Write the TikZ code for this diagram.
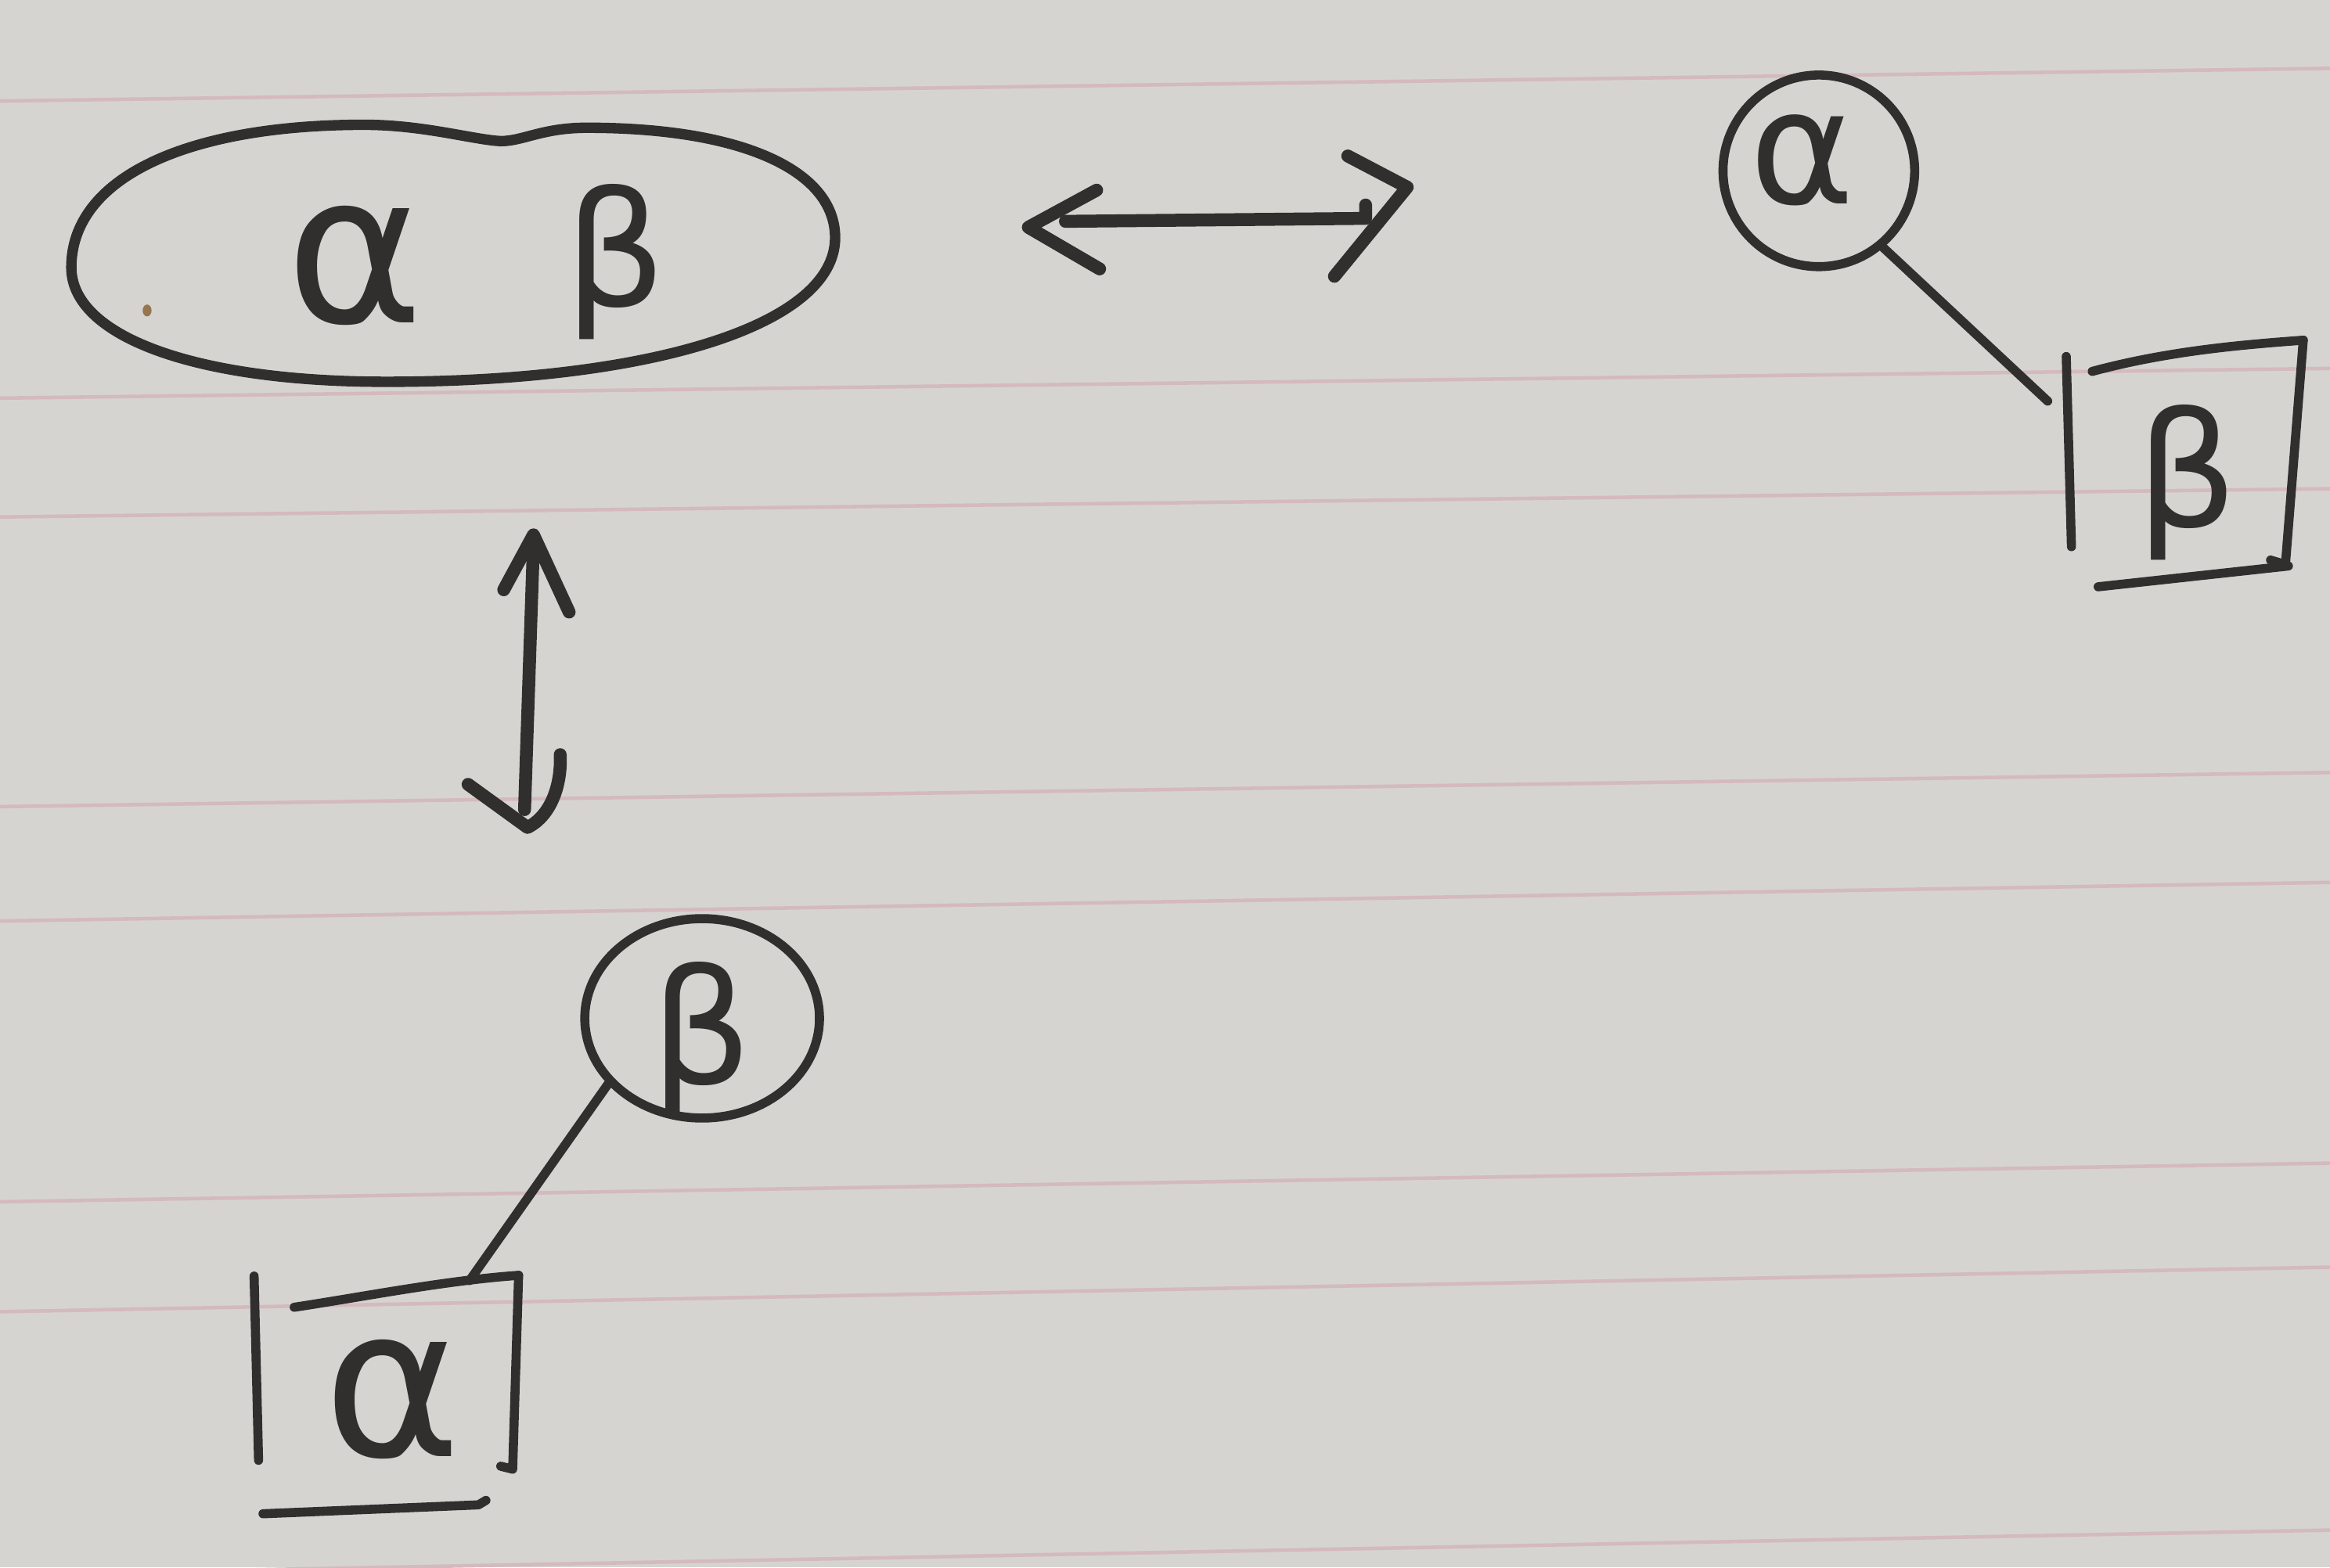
\documentclass[tikz,border=0pt]{standalone}
\usepackage{fontspec}
\newfontfamily\gk{DejaVu Sans}
\usetikzlibrary{shapes.geometric}
\definecolor{paper}{RGB}{214,212,209}
\definecolor{ink}{RGB}{48,47,46}
\definecolor{rulecol}{RGB}{212,186,189}
\definecolor{stain}{RGB}{150,118,78}
\tikzset{
  pen/.style={draw=ink, line width=3.3pt, line cap=round, line join=round},
  thickpen/.style={pen, line width=4.7pt},
  ruled/.style={draw=rulecol, line width=1.3pt},
  letter/.style={text=ink, inner sep=0pt},
  la/.style={letter, font=\gk\fontsize{76}{80}\selectfont},
  las/.style={letter, font=\gk\fontsize{58}{62}\selectfont},
  lb/.style={letter, font=\gk\fontsize{58}{62}\selectfont},
}
\begin{document}
\begin{tikzpicture}[x=0.019cm, y=-0.019cm]
\fill[paper] (0,0) rectangle (1568,1055);
\useasboundingbox (0,0) rectangle (1568,1055);
% ruled lines of the paper
\draw[ruled] (0,68) -- (1568,46);
\draw[ruled] (0,268) -- (1568,248);
\draw[ruled] (0,348) -- (1568,329);
\draw[ruled] (0,543) -- (1568,520);
\draw[ruled] (0,620) -- (1568,594);
\draw[ruled] (0,809) -- (1568,783);
\draw[ruled] (0,883) -- (1568,853);
\draw[ruled] (0,1060) -- (1568,1030);
% stain
\fill[stain] (99,209) ellipse [x radius=3, y radius=4];

% ---- ellipse group (top left)
\draw[pen, line width=3.8pt] (48,180)
  .. controls (48,120) and (125,84) .. (245,84)
  .. controls (285,84) and (318,94) .. (337,95)
  .. controls (352,95) and (365,86) .. (395,86)
  .. controls (500,86) and (562,115) .. (562,160)
  .. controls (562,218) and (441,257) .. (260,257)
  .. controls (130,257) and (48,226) .. (48,180) -- cycle;
\node[la] (a1) at (239,179) {α};
\node[lb] (b1) at (414,176) {β};

% ---- horizontal double arrow
\coordinate (hl) at (692,153);
\coordinate (hr) at (947,126);
\coordinate (hs1) at (717,149);
\coordinate (hs2) at (919,147);
\draw[thickpen] (hs1) -- (hs2) -- ++(0,-9);
\draw[thickpen] (hl) ++(46,-25) -- (hl) -- ++(48,28);
\draw[thickpen] (hr) ++(-40,-21) -- (hr) -- ++(-49,60);

% ---- top right: circle alpha linked to box beta
\node[circle, pen, minimum size=2.45cm, inner sep=0pt] (c2) at (1224,115) {};
\node[las] (a2) at (1213,108) {α};
\coordinate (k2) at (1378,270);
\draw[pen] (c2.-50) -- (k2);
\draw[pen] (1390.5,240) -- (1394,368);
\draw[pen] (1408,250) .. controls (1460,236) and (1510,232) .. (1550,229);
\draw[pen] (1550,229) -- (1538,380) -- (1528,377);
\draw[pen] (1412,395) -- (1540,381);
\node[lb] (b2) at (1472,325) {β};

% ---- vertical double arrow
\coordinate (vt) at (359,360);
\coordinate (vb) at (355,557);
\coordinate (vs1) at (359,366);
\coordinate (vs2) at (353,545);
\draw[thickpen] (vs1) -- (vs2);
\draw[thickpen] (vt) ++(-20,37) -- (vt) -- ++(24,52);
\draw[thickpen] (vb) ++(-40,-29) -- (vb) .. controls (371,549) and (378,528) .. (377,508);

% ---- bottom: circle beta linked to box alpha
\node[ellipse, pen, minimum width=3.0cm, minimum height=2.55cm, inner sep=0pt] (e3) at (472.5,685.5) {};
\node[lb] (b3) at (472,700) {β};
\coordinate (k3) at (316,862);
\draw[pen] (e3.215) -- (k3);
\draw[pen] (171,859) -- (174,983);
\draw[pen] (198,880) .. controls (250,872) and (300,862) .. (349,858.5);
\draw[pen] (349,858.5) -- (345,989) -- (337,987);
\draw[pen] (177,1019) -- (322,1013) -- (327,1010);
\node[la] (a3) at (264,942) {α};
\end{tikzpicture}
\end{document}
